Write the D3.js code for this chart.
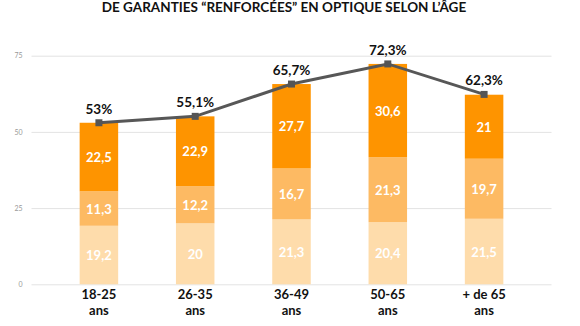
<!DOCTYPE html>
<html><head><meta charset="utf-8">
<script src="https://cdn.jsdelivr.net/npm/d3@7"></script>
<style>
html,body{margin:0;padding:0;background:#fff;}
svg{display:block;font-family:Lato,"Open Sans",sans-serif;}
</style></head>
<body><svg id="c" width="580" height="326"></svg>
<script>
const title = "DE GARANTIES “RENFORCÉES” EN OPTIQUE SELON L’ÂGE";
const categories = ["18-25", "26-35", "36-49", "50-65", "+ de 65"];
const catSub = ["ans", "ans", "ans", "ans", "ans"];
const seriesBottom = [19.2, 20, 21.3, 20.4, 21.5];
const seriesMiddle = [11.3, 12.2, 16.7, 21.3, 19.7];
const seriesTop = [22.5, 22.9, 27.7, 30.6, 21];
const totals = [53, 55.1, 65.7, 72.3, 62.3];
const totalLabels = ["53%", "55,1%", "65,7%", "72,3%", "62,3%"];
const yTicks = [0, 25, 50, 75];
const colors = ["#FEDCAB", "#FDBA63", "#FE9400"];

const svg = d3.select("#c");
const x = d3.scaleBand().domain(categories).range([31.5, 551.5]).paddingInner(0.6).paddingOuter(0.5);
const y = d3.scaleLinear().domain([0, 75]).range([284.3, 55.7]);
const fmt = v => String(v).replace(".", ",");

// title
svg.append("text").attr("x", 284).attr("y", 12).attr("text-anchor", "middle")
  .attr("font-size", 13.5).attr("font-weight", 700).attr("fill", "#111").text(title);

// grid
const yAxis = d3.axisLeft(y).tickValues(yTicks).tickSize(-(551.5 - 31.5)).tickPadding(9);
const gy = svg.append("g").attr("transform", "translate(31.5,0)").call(yAxis);
gy.select(".domain").remove();
gy.selectAll(".tick line").attr("stroke", "#e3e3e3").attr("stroke-width", 1);
gy.selectAll(".tick text").attr("fill", "#999").attr("font-size", 7).attr("font-family", "Lato,sans-serif");

// stacks
const series = [seriesBottom, seriesMiddle, seriesTop];
const rows = categories.map((c, i) => ({cat: c, s0: seriesBottom[i], s1: seriesMiddle[i], s2: seriesTop[i]}));
const stack = d3.stack().keys(["s0", "s1", "s2"])(rows);
stack.forEach((layer, li) => {
  const g = svg.append("g");
  g.selectAll("rect").data(layer).join("rect")
    .attr("x", d => x(d.data.cat)).attr("width", x.bandwidth())
    .attr("y", d => y(d[1])).attr("height", d => y(d[0]) - y(d[1]))
    .attr("fill", colors[li]);
  g.selectAll("text").data(layer).join("text")
    .attr("x", d => x(d.data.cat) + x.bandwidth() / 2)
    .attr("y", d => (y(d[0]) + y(d[1])) / 2 + 5)
    .attr("text-anchor", "middle").attr("font-size", 13).attr("font-weight", 700)
    .attr("fill", "#fff").text((d, i) => fmt(series[li][i]));
});

// x labels
const xl = svg.append("g");
categories.forEach((c, i) => {
  const cx = x(c) + x.bandwidth() / 2;
  xl.append("text").attr("x", cx).attr("y", 299).attr("text-anchor", "middle")
    .attr("font-size", 13).attr("font-weight", 700).attr("fill", "#111").text(c);
  xl.append("text").attr("x", cx).attr("y", 315).attr("text-anchor", "middle")
    .attr("font-size", 13).attr("font-weight", 700).attr("fill", "#111").text(catSub[i]);
});

// line
const line = d3.line().x((d, i) => x(categories[i]) + x.bandwidth() / 2).y(d => y(d));
svg.append("path").datum(totals).attr("d", line).attr("fill", "none")
  .attr("stroke", "#575757").attr("stroke-width", 3);
svg.append("g").selectAll("rect").data(totals).join("rect")
  .attr("x", (d, i) => x(categories[i]) + x.bandwidth() / 2 - 3.5)
  .attr("y", d => y(d) - 3.5).attr("width", 7).attr("height", 7).attr("fill", "#555");
svg.append("g").selectAll("text").data(totals).join("text")
  .attr("x", (d, i) => x(categories[i]) + x.bandwidth() / 2)
  .attr("y", d => y(d) - 9)
  .attr("text-anchor", "middle").attr("font-size", 13.5).attr("font-weight", 700)
  .attr("fill", "#111").text((d, i) => totalLabels[i]);
</script></body></html>
